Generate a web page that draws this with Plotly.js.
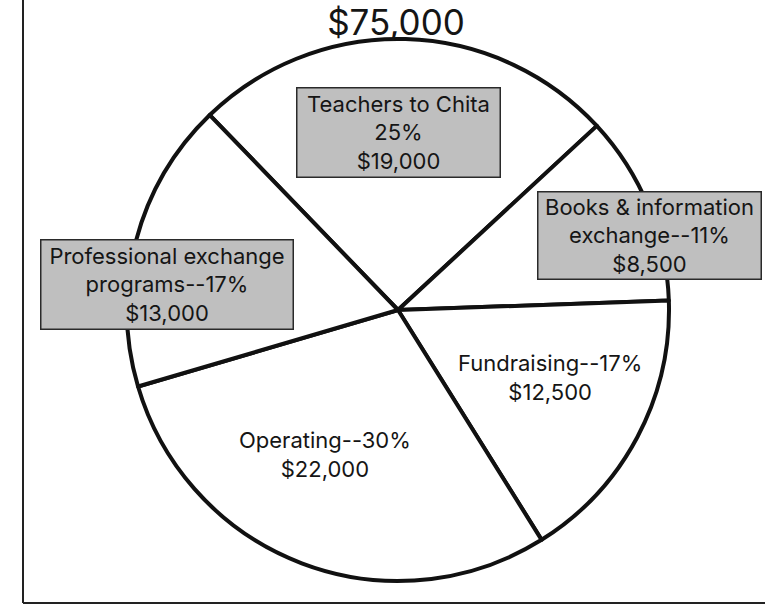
<!DOCTYPE html>
<html>
<head>
<meta charset="utf-8">
<script src="https://cdn.plot.ly/plotly-3.0.1.min.js"></script>
<style>html,body{margin:0;padding:0;background:#fff;}#chart{width:765px;height:606px;}</style>
</head>
<body>
<div id="chart"></div>
<script>
// Data
var categories = ["Teachers to Chita", "Books & information exchange", "Fundraising", "Operating", "Professional exchange programs"];
var amounts = [19000, 8500, 12500, 22000, 13000];
var percentLabels = ["25%", "11%", "17%", "30%", "17%"];
var amountLabels = ["$19,000", "$8,500", "$12,500", "$22,000", "$13,000"];
var totalLabel = "$75,000";
var labelTexts = [
  "Teachers to Chita<br>" + percentLabels[0] + "<br>" + amountLabels[0],
  "Books & information<br>exchange--" + percentLabels[1] + "<br>" + amountLabels[1],
  "Fundraising--" + percentLabels[2] + "<br>" + amountLabels[2],
  "Operating--" + percentLabels[3] + "<br>" + amountLabels[3],
  "Professional exchange<br>programs--" + percentLabels[4] + "<br>" + amountLabels[4]
];
var boxed = [true, true, false, false, true];

// Layout helpers (pixel positions of labels on the 765x606 canvas)
var W = 765, H = 606;
var labelPos = [[398, 132.5], [649, 235.5], [550, 377], [325, 454], [167, 284]];
var boxSize = [[202, 88], [222, 86], null, null, [251, 88]];

var FONT = "Inter, DejaVu Sans, sans-serif";

var annotations = labelTexts.map(function (t, i) {
  var a = {
    text: t, showarrow: false, xref: "paper", yref: "paper",
    x: labelPos[i][0] / W, y: 1 - labelPos[i][1] / H,
    xanchor: "center", yanchor: "middle", align: "center",
    font: {family: FONT, size: 22, color: "#151515"}
  };
  if (boxed[i]) {
    a.bgcolor = "#bfbfbf"; a.bordercolor = "#2a2a2a"; a.borderwidth = 1.5;
    a.width = boxSize[i][0]; a.height = boxSize[i][1]; a.borderpad = 0; a.valign = "middle";
  }
  return a;
});

var cx = 398, cy = 310, r = 271;
var trace = {
  type: "pie", values: amounts, labels: categories, sort: false,
  direction: "clockwise", rotation: -44, textinfo: "none", hoverinfo: "none",
  marker: {colors: categories.map(function () { return "#ffffff"; }), line: {color: "#111", width: 4}},
  domain: {x: [(cx - r) / W, (cx + r) / W], y: [1 - (cy + r) / H, 1 - (cy - r) / H]},
  showlegend: false
};

var layout = {
  width: W, height: H, margin: {l: 0, r: 0, t: 0, b: 0},
  paper_bgcolor: "#fff", plot_bgcolor: "#fff",
  title: {text: totalLabel, font: {family: FONT, size: 35, color: "#151515"},
          x: 396 / W, xanchor: "center", xref: "paper", y: 1 - 23 / H, yanchor: "middle", yref: "container"},
  annotations: annotations,
  shapes: [
    {type: "line", xref: "paper", yref: "paper", x0: 23 / W, x1: 23 / W, y0: 1 - 603 / H, y1: 1.02, line: {color: "#222", width: 2}},
    {type: "line", xref: "paper", yref: "paper", x0: 23 / W, x1: 1.02, y0: 1 - 603 / H, y1: 1 - 603 / H, line: {color: "#222", width: 2}}
  ]
};

Plotly.newPlot("chart", [trace], layout, {displayModeBar: false, staticPlot: true});
</script>
</body>
</html>
